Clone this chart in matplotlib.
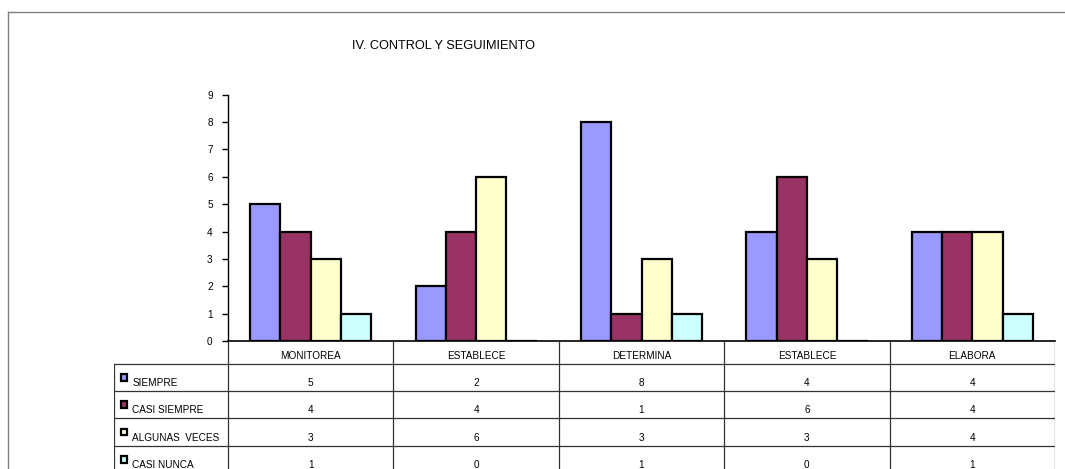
import numpy as np
import matplotlib
matplotlib.use("Agg")
import matplotlib.pyplot as plt
from matplotlib.patches import Rectangle
from matplotlib.lines import Line2D

plt.rcParams['font.family'] = ['Liberation Sans', 'DejaVu Sans']

# data
categorias = ['MONITOREA', 'ESTABLECE', 'DETERMINA', 'ESTABLECE', 'ELABORA']
series = ['SIEMPRE', 'CASI SIEMPRE', 'ALGUNAS  VECES', 'CASI NUNCA']
siempre = [5, 2, 8, 4, 4]
casi_siempre = [4, 4, 1, 6, 4]
algunas_veces = [3, 6, 3, 3, 4]
casi_nunca = [1, 0, 1, 0, 1]
valores = [siempre, casi_siempre, algunas_veces, casi_nunca]
colores = ['#9999FF', '#993366', '#FFFFCC', '#CCFFFF']
titulo = 'IV. CONTROL Y SEGUIMIENTO'

W, H = 1065, 469
fig = plt.figure(figsize=(W / 100, H / 100), dpi=100)


def box(l, t, r, b):
    # pixel box -> figure fraction rect
    return [l / W, 1 - b / H, (r - l) / W, (b - t) / H]


# outer frame
fig.add_artist(Line2D([8 / W, 8 / W], [0, 1 - 12 / H], color='#808080', lw=1))
fig.add_artist(Line2D([8 / W, 1], [1 - 12 / H, 1 - 12 / H], color='#808080', lw=1))

fig.text(443 / W, 1 - 46 / H, titulo, ha='center', va='center', fontsize=9.2)

ax_l, ax_r, ax_t, ax_b = 228, 1055, 94.7, 341
ax = fig.add_axes(box(ax_l, ax_t, ax_r, ax_b))
n = len(categorias)
x = np.arange(n) + 0.5
w = 30.3 / ((ax_r - ax_l) / n)
for j, (vals, c) in enumerate(zip(valores, colores)):
    ax.bar(x + (j - 1.5) * w, vals, w, color=c, edgecolor='black', linewidth=1.6, zorder=3)
ax.set_xlim(0, n)
ax.set_ylim(0, 9)
ax.set_yticks(range(10))
ax.tick_params(axis='y', length=4, width=1, pad=7, labelsize=7.2, colors='black')
ax.set_xticks([])
for s in ['top', 'right']:
    ax.spines[s].set_visible(False)
ax.spines['left'].set_linewidth(1)
ax.spines['bottom'].set_linewidth(1.2)
ax.patch.set_alpha(0)

# data table below the plot
px_u = (ax_r - ax_l) / n
lab_w = (ax_l - 114) / px_u
tb = fig.add_axes(box(114, ax_b, ax_r, H))
tb.set_xlim(-lab_w, n)
tb.set_ylim(H - ax_b, 0)
tb.axis('off')
head_h, row_h = 22.5, 27.4
lc = '#333333'
ys = [head_h + k * row_h for k in range(len(series) + 1)]
for yy in ys:
    tb.plot([-lab_w, n], [yy, yy], color=lc, lw=0.9)
for xx in range(n + 1):
    tb.plot([xx, xx], [0, 200], color=lc, lw=0.9)
tb.plot([-lab_w, -lab_w], [head_h, 200], color=lc, lw=0.9)

fs = 7.2
for i, cat in enumerate(categorias):
    tb.text(i + 0.5, head_h / 2 + 4, cat, ha='center', va='center', fontsize=fs)
for k, (name, vals, c) in enumerate(zip(series, valores, colores)):
    y0 = ys[k]
    tb.add_patch(Rectangle((-lab_w + 6.5 / px_u, y0 + 10.3), 6.8 / px_u, 6.8,
                           facecolor=c, edgecolor='black', lw=1.6, clip_on=False))
    tb.text(-lab_w + 18.5 / px_u, y0 + row_h / 2 + 5.5, name,
            ha='left', va='center', fontsize=fs)
    for i, v in enumerate(vals):
        tb.text(i + 0.5, y0 + row_h / 2 + 5.5, str(v), ha='center', va='center', fontsize=fs)

fig.savefig('out.png', dpi=100)
